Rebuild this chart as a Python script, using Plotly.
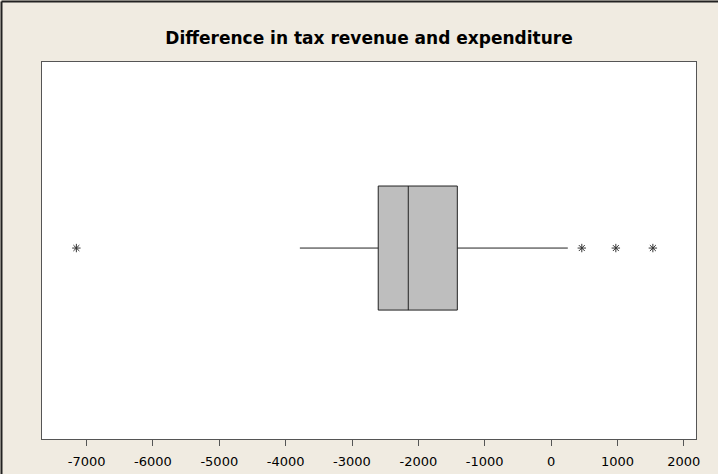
import plotly.graph_objects as go

# Box-plot summary
q1 = [-2605]
median = [-2152]
q3 = [-1413]
lower_whisker = [-3786]
upper_whisker = [252]
outliers = [-7154, 463, 976, 1534]
tick_vals = [-7000, -6000, -5000, -4000, -3000, -2000, -1000, 0, 1000, 2000]
tick_text = [str(v) for v in tick_vals]
title = "Difference in tax revenue and expenditure"

W, H = 718, 474
ml, mr, mt, mb = 42, 22, 62, 35
pw, ph = W - ml - mr, H - mt - mb

fig = go.Figure()
fig.add_trace(go.Box(
    orientation="h", y=[0], q1=q1, median=median, q3=q3,
    lowerfence=lower_whisker, upperfence=upper_whisker,
    boxpoints=False, whiskerwidth=0, width=0.658,
    fillcolor="#BEBEBE", line=dict(color="#222222", width=1),
    hoverinfo="skip", showlegend=False,
))
fig.add_trace(go.Scatter(
    x=outliers, y=[0] * len(outliers), mode="markers",
    marker=dict(symbol="asterisk-open", size=7, color="#333333",
                line=dict(color="#333333", width=1)),
    showlegend=False, hoverinfo="skip",
))

fig.update_layout(
    width=W, height=H,
    margin=dict(l=ml, r=mr, t=mt, b=mb, autoexpand=False),
    paper_bgcolor="#F0EBE1", plot_bgcolor="white",
    title=dict(text="<b>" + title + "</b>", x=(ml + pw / 2) / W, xanchor="center",
               y=1 - 38 / H, yanchor="middle",
               font=dict(family="DejaVu Sans", size=17, color="black")),
    font=dict(family="DejaVu Sans", size=13, color="black"),
    xaxis=dict(range=[-7672, 2184], tickvals=tick_vals, ticktext=tick_text,
               showgrid=False, zeroline=False, showline=True, mirror=True,
               linecolor="#555555", linewidth=1, ticks="outside", ticklen=6,
               tickcolor="#555555", tickfont=dict(size=13), ticklabelstandoff=4,
               automargin=False),
    yaxis=dict(range=[-1.013, 0.987], showticklabels=False, showgrid=False,
               zeroline=False, showline=True, mirror=True,
               linecolor="#555555", linewidth=1, ticks="", automargin=False),
    shapes=[
        dict(type="line", xref="paper", yref="paper",
             x0=-(ml - 1.5) / pw, x1=-(ml - 1.5) / pw, y0=-mb / ph, y1=1 + (mt - 1.5) / ph,
             line=dict(color="#222222", width=2)),
        dict(type="line", xref="paper", yref="paper",
             x0=-(ml - 1.5) / pw, x1=1 + mr / pw, y0=1 + (mt - 1.5) / ph, y1=1 + (mt - 1.5) / ph,
             line=dict(color="#222222", width=2)),
    ],
)
fig.write_html("out.html")
